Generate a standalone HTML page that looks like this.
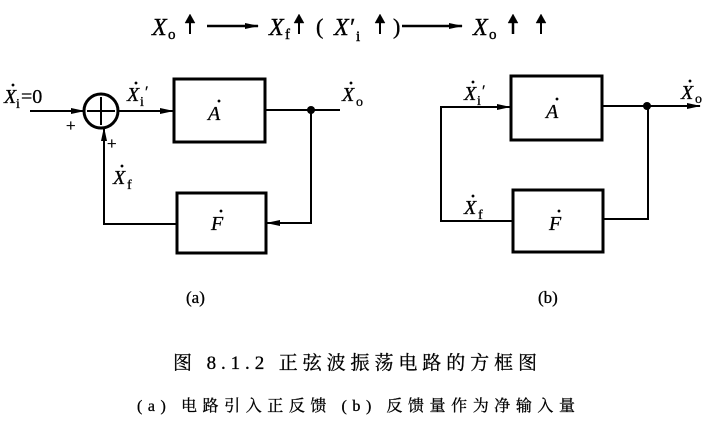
<!DOCTYPE html>
<html><head><meta charset="utf-8"><style>
html,body{margin:0;padding:0;background:#fff;}
svg{display:block}
.s{font-family:"Liberation Serif",serif;}
.i{font-style:italic}
.c{font-family:"Liberation Serif","Noto Serif CJK SC",serif;}
</style></head><body>
<svg width="710" height="422" viewBox="0 0 710 422" xmlns="http://www.w3.org/2000/svg">
<defs><marker id="ar" markerWidth="14" markerHeight="8" refX="13" refY="4" orient="auto" markerUnits="userSpaceOnUse"><path d="M0,1 L14,4 L0,7 Z" fill="#000"/></marker></defs>
<g class="s" font-size="24" fill="#000" stroke="#000" stroke-width="0.4">
<text x="152" y="35" class="i">X</text><text x="168" y="39" font-size="15">o</text>
<line x1="190" y1="34" x2="190" y2="20" stroke-width="2"/><path d="M185,23 L190,14 L195,23 Z"/>
<line x1="207" y1="26" x2="258" y2="26" stroke="#000" stroke-width="2.5" marker-end="url(#ar)"/>
<text x="269" y="35" class="i">X</text><text x="285" y="39" font-size="15">f</text>
<line x1="299" y1="34" x2="299" y2="20" stroke-width="2"/><path d="M294,23 L299,14 L304,23 Z"/>
<text x="316" y="34" font-size="22">(</text>
<text x="334" y="35" class="i">X′</text><text x="356" y="41" font-size="15">i</text>
<line x1="380" y1="34" x2="380" y2="20" stroke-width="2"/><path d="M375,23 L380,14 L385,23 Z"/>
<text x="393" y="34" font-size="22">)</text>
<line x1="402" y1="26" x2="462" y2="26" stroke="#000" stroke-width="2.5" marker-end="url(#ar)"/>
<text x="473" y="35" class="i">X</text><text x="489" y="39" font-size="15">o</text>
<line x1="513" y1="34" x2="513" y2="20" stroke-width="2.5"/><path d="M508,23 L513,14 L518,23 Z"/>
<line x1="541" y1="34" x2="541" y2="20" stroke-width="2"/><path d="M536,23 L541,14 L546,23 Z"/>
</g>
<g stroke="#000" fill="none" stroke-width="2">
<line x1="30" y1="111" x2="84" y2="111" marker-end="url(#ar)"/>
<circle cx="101" cy="111" r="17" stroke-width="3"/>
<line x1="87" y1="111" x2="115" y2="111"/><line x1="101" y1="97" x2="101" y2="125"/>
<line x1="118" y1="111" x2="173" y2="111" marker-end="url(#ar)"/>
<rect x="174" y="79" width="91" height="63" stroke-width="3"/>
<line x1="265" y1="110" x2="340" y2="110"/>
<polyline points="311,110 311,223 267,223" marker-end="url(#ar)"/>
<rect x="177" y="193" width="89" height="60" stroke-width="3"/>
<polyline points="177,224 104,224 104,128" marker-end="url(#ar)"/>
<polyline points="512,221 441,221 441,107 510,107" marker-end="url(#ar)"/>
<rect x="511" y="76" width="91" height="64" stroke-width="3"/>
<line x1="602" y1="106" x2="700" y2="106" marker-end="url(#ar)"/>
<rect x="513" y="190" width="90" height="62" stroke-width="3"/>
<polyline points="648,106 648,219 603,219"/>
</g>
<circle cx="311" cy="110" r="4"/><circle cx="647" cy="106" r="4"/>
<g class="s" font-size="20" fill="#000" stroke="#000" stroke-width="0.3">
<text x="4" y="103" class="i">X</text><circle cx="13" cy="85" r="1.3"/><text x="16" y="108" font-size="14">i</text><text x="21" y="103">=0</text>
<text x="66" y="131" font-size="17">+</text>
<text x="107" y="149" font-size="17">+</text>
<text x="127" y="101" class="i">X</text><circle cx="136" cy="83" r="1.3"/><text x="140" y="106" font-size="14">i</text><text x="145" y="97" font-size="16">′</text>
<text x="208" y="120" class="i">A</text><circle cx="219" cy="101" r="1.3"/>
<text x="113" y="184" class="i">X</text><circle cx="122" cy="166" r="1.3"/><text x="127" y="189" font-size="14">f</text>
<text x="211" y="230" class="i">F</text><circle cx="221" cy="211" r="1.3"/>
<text x="342" y="101" class="i">X</text><circle cx="351" cy="83" r="1.3"/><text x="356" y="106" font-size="14">o</text>
<text x="186" y="303" font-size="17">(a)</text>
<text x="464" y="100" class="i">X</text><circle cx="473" cy="82" r="1.3"/><text x="477" y="105" font-size="14">i</text><text x="482" y="96" font-size="16">′</text>
<text x="546" y="118" class="i">A</text><circle cx="557" cy="99" r="1.3"/>
<text x="464" y="214" class="i">X</text><circle cx="473" cy="196" r="1.3"/><text x="478" y="219" font-size="14">f</text>
<text x="549" y="230" class="i">F</text><circle cx="559" cy="211" r="1.3"/>
<text x="681" y="99" class="i">X</text><circle cx="690" cy="81" r="1.3"/><text x="695" y="103" font-size="14">o</text>
<text x="538" y="303" font-size="17">(b)</text>
</g>
<text x="173" y="369" class="c" font-size="19" fill="#000" stroke="#000" stroke-width="0.3" textLength="364" lengthAdjust="spacing">图 8.1.2  正弦波振荡电路的方框图</text>
<text x="137" y="411" class="c" font-size="16" fill="#000" stroke="#000" stroke-width="0.3" textLength="438" lengthAdjust="spacing">(a) 电路引入正反馈  (b) 反馈量作为净输入量</text>
</svg>
</body></html>
